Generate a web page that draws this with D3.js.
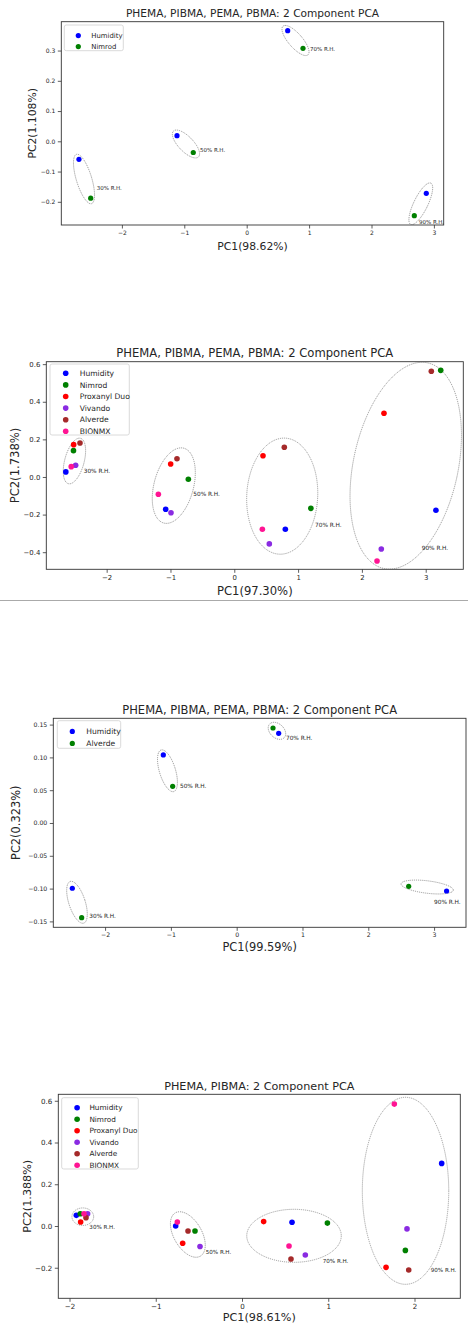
<!DOCTYPE html>
<html>
<head>
<meta charset="utf-8">
<script src="https://cdn.jsdelivr.net/npm/d3@7"></script>
<style>
  body { margin: 0; background: #fff; }
  text { font-family: "DejaVu Sans", sans-serif; fill: #262626; }
</style>
</head>
<body>
<div id="chart"></div>
<script>
// séries et couleurs
const seriesColors = {
  "Humidity": "#0000ff", "Nimrod": "#008000", "Proxanyl Duo": "#ff0000",
  "Vivando": "#8a2be2", "Alverde": "#a52a2a", "BIONMX": "#ff1493"
};
const rhLabels = ["30% R.H.", "50% R.H.", "70% R.H.", "90% R.H."];

// Graphique 1 : Humidity / Nimrod
const p1Series = ["Humidity", "Nimrod"];
const p1PC1 = [[-2.688, -1.117, 0.657, 2.878], [-2.50, -0.856, 0.902, 2.686]];
const p1PC2 = [[-0.0595, 0.0185, 0.3656, -0.172], [-0.188, -0.037, 0.3074, -0.246]];
const p1LabelAt = [[-2.404, -0.153], [-0.748, -0.028], [1.014, 0.306], [2.76, -0.268]];
// ellipses : cx, cy, demi-axe x, demi-axe y, rotation
const p1Ellipses = [[-2.607, -0.1246, 0.123, 0.0853, -17], [-0.973, -0.0089, 0.120, 0.0595, -44],
                    [0.782, 0.3332, 0.112, 0.0628, -41], [2.79, -0.2066, 0.112, 0.076, 26]];
const p1XTicks = [-2, -1, 0, 1, 2, 3];
const p1YTicks = [-0.2, -0.1, 0.0, 0.1, 0.2, 0.3];

// Graphique 2 : six produits
const p2Series = ["Humidity", "Nimrod", "Proxanyl Duo", "Vivando", "Alverde", "BIONMX"];
const p2PC1 = [[-2.64, -1.075, 0.80, 3.16], [-2.52, -0.72, 1.20, 3.235], [-2.517, -0.997, 0.45, 2.346],
               [-2.486, -0.992, 0.549, 2.304], [-2.418, -0.898, 0.784, 3.088], [-2.555, -1.19, 0.44, 2.237]];
const p2PC2 = [[0.027, -0.172, -0.278, -0.177], [0.14, -0.012, -0.167, 0.567], [0.172, 0.069, 0.113, 0.339],
               [0.062, -0.19, -0.356, -0.383], [0.181, 0.097, 0.158, 0.562], [0.055, -0.092, -0.278, -0.447]];
const p2LabelAt = [[-2.36, 0.03], [-0.643, -0.092], [1.265, -0.255], [2.937, -0.378]];
const p2Ellipses = [[-2.505, 0.085, 0.152, 0.125, 15], [-0.948, -0.046, 0.309, 0.206, 15],
                    [0.751, -0.102, 0.556, 0.309, 3], [2.687, 0.060, 0.821, 0.559, 12]];
const p2XTicks = [-2, -1, 0, 1, 2, 3];
const p2YTicks = [-0.4, -0.2, 0.0, 0.2, 0.4, 0.6];

// Graphique 3 : Humidity / Alverde (Alverde en vert ici)
const p3Series = ["Humidity", "Alverde"];
const p3Colors = ["#0000ff", "#008000"];
const p3PC1 = [[-2.498, -1.115, 0.638, 3.19], [-2.356, -0.973, 0.552, 2.614]];
const p3PC2 = [[-0.0995, 0.1037, 0.1367, -0.1037], [-0.1443, 0.0559, 0.1448, -0.0965]];
const p3LabelAt = [[-2.24, -0.142], [-0.862, 0.056], [0.749, 0.1296], [3.0, -0.121]];
const p3Ellipses = [[-2.427, -0.1209, 0.124, 0.0334, -18], [-1.052, 0.0796, 0.122, 0.0331, -17],
                    [0.612, 0.1405, 0.1064, 0.01524, -47], [2.895, -0.0976, 0.400, 0.00945, 7]];
const p3XTicks = [-2, -1, 0, 1, 2, 3];
const p3YTicks = [-0.15, -0.10, -0.05, 0.00, 0.05, 0.10, 0.15];

// Graphique 4 : PHEMA, PIBMA
const p4Series = ["Humidity", "Nimrod", "Proxanyl Duo", "Vivando", "Alverde", "BIONMX"];
const p4PC1 = [[-1.921, -0.769, 0.58, 2.315], [-1.875, -0.545, 0.99, 1.894], [-1.871, -0.688, 0.251, 1.67],
               [-1.79, -0.487, 0.734, 1.913], [-1.809, -0.626, 0.568, 1.933], [-1.832, -0.75, 0.545, 1.766]];
const p4PC2 = [[0.051, 0.0, 0.018, 0.30], [0.059, -0.024, 0.014, -0.117], [0.019, -0.083, 0.021, -0.198],
               [0.059, -0.098, -0.139, -0.014], [0.040, -0.024, -0.158, -0.211], [0.059, 0.019, -0.096, 0.584]];
const p4LabelAt = [[-1.77, -0.006], [-0.421, -0.123], [0.936, -0.168], [2.188, -0.211]];
const p4Ellipses = [[-1.846, 0.0446, 0.126, 0.042, 0], [-0.628, -0.0407, 0.1623, 0.1198, -30],
                    [0.603, -0.047, 0.548, 0.127, 0], [1.896, 0.1686, 0.501, 0.448, 0]];
const p4XTicks = [-2, -1, 0, 1, 2];
const p4YTicks = [-0.2, 0.0, 0.2, 0.4, 0.6];

const W = 468, H = 1324;
const svg = d3.select("#chart").append("svg").attr("width", W).attr("height", H);

// trait de séparation sous le graphique 2
svg.append("line").attr("x1", 0).attr("x2", W).attr("y1", 600.5).attr("y2", 600.5)
  .attr("stroke", "#aaa").attr("stroke-width", 1);

function drawPanel(cfg) {
  const { id, box, xDomain, yDomain, series, pc1, pc2, labelAt, ellipses, xTicks, yTicks, yFmt } = cfg;
  const colorOf = (s, i) => cfg.colors ? cfg.colors[i] : seriesColors[s];
  const [left, top, right, bottom] = box;
  const x = d3.scaleLinear().domain(xDomain).range([left, right]);
  const y = d3.scaleLinear().domain(yDomain).range([bottom, top]);
  const g = svg.append("g");

  g.append("clipPath").attr("id", "clip" + id).append("rect")
    .attr("x", left).attr("y", top).attr("width", right - left).attr("height", bottom - top);

  // axes
  const xAxis = d3.axisBottom(x).tickValues(xTicks).tickSize(3.5).tickPadding(2).tickFormat(d3.format("d"));
  const yAxis = d3.axisLeft(y).tickValues(yTicks).tickSize(3.5).tickPadding(2.5).tickFormat(d3.format(yFmt));
  const gx = g.append("g").attr("transform", `translate(0,${bottom})`).call(xAxis);
  const gy = g.append("g").attr("transform", `translate(${left},0)`).call(yAxis);
  [gx, gy].forEach(a => {
    a.select(".domain").remove();
    a.selectAll(".tick line").attr("stroke", "#333").attr("stroke-width", 0.8);
    a.selectAll(".tick text").attr("font-family", "DejaVu Sans").attr("font-size", cfg.tickFont).attr("fill", "#333");
  });

  // ellipses pointillées
  g.append("g").attr("clip-path", `url(#clip${id})`).selectAll("ellipse")
    .data(ellipses).join("ellipse")
    .attr("cx", d => x(d[0])).attr("cy", d => y(d[1]))
    .attr("rx", d => x(d[0] + d[2]) - x(d[0]))
    .attr("ry", d => y(d[1]) - y(d[1] + d[3]))
    .attr("transform", d => `rotate(${d[4]},${x(d[0])},${y(d[1])})`)
    .attr("fill", "none").attr("stroke", "#777").attr("stroke-width", 0.7)
    .attr("stroke-dasharray", "1.1,0.9");

  // étiquettes R.H.
  g.selectAll("text.rh").data(labelAt).join("text").attr("class", "rh")
    .attr("x", d => x(d[0])).attr("y", d => y(d[1]))
    .attr("dy", "0.35em").attr("font-size", cfg.rhFont)
    .text((d, i) => rhLabels[i]);

  // points
  series.forEach((s, si) => {
    g.append("g").selectAll("circle").data(pc1[si]).join("circle")
      .attr("cx", d => x(d)).attr("cy", (d, i) => y(pc2[si][i]))
      .attr("r", cfg.r).attr("fill", colorOf(s, si));
  });

  // cadre
  g.append("rect").attr("x", left).attr("y", top).attr("width", right - left).attr("height", bottom - top)
    .attr("fill", "none").attr("stroke", "#333").attr("stroke-width", 0.9);

  // légende
  const lg = cfg.legend;
  const leg = g.append("g").attr("transform", `translate(${left + lg.dx},${top + lg.dy})`);
  leg.append("rect").attr("width", lg.w).attr("height", lg.h).attr("rx", 2)
    .attr("fill", "#fff").attr("stroke", "#d0d0d0").attr("stroke-width", 0.8);
  series.forEach((s, i) => {
    leg.append("circle").attr("cx", lg.mx).attr("cy", lg.y0 + i * lg.step).attr("r", cfg.r).attr("fill", colorOf(s, i));
    leg.append("text").attr("x", lg.tx).attr("y", lg.y0 + i * lg.step).attr("dy", "0.35em")
      .attr("font-size", lg.font).text(s);
  });

  // titres
  const cx = (left + right) / 2;
  g.append("text").attr("x", cx).attr("y", cfg.titleY).attr("text-anchor", "middle")
    .attr("font-size", cfg.titleFont).text(cfg.title);
  g.append("text").attr("x", cx).attr("y", cfg.xLabelY).attr("text-anchor", "middle")
    .attr("font-size", cfg.labelFont).text(cfg.xLabel);
  g.append("text").attr("transform", `translate(${cfg.yLabelX},${(top + bottom) / 2}) rotate(-90)`)
    .attr("text-anchor", "middle").attr("font-size", cfg.labelFont).text(cfg.yLabel);
}

drawPanel({
  id: 1, box: [61.3, 21.7, 443.7, 225], xDomain: [-2.971, 3.157], yDomain: [-0.2767, 0.3954],
  series: p1Series, pc1: p1PC1, pc2: p1PC2, labelAt: p1LabelAt, ellipses: p1Ellipses,
  xTicks: p1XTicks, yTicks: p1YTicks, yFmt: ".1f", tickFont: 6, rhFont: 5.5, r: 2.6,
  legend: { dx: 3, dy: 3.3, w: 59, h: 25.7, mx: 14, tx: 27, y0: 10.6, step: 11, font: 6.9 },
  title: "PHEMA, PIBMA, PEMA, PBMA: 2 Component PCA", titleY: 17, titleFont: 10.6,
  xLabel: "PC1(98.62%)", xLabelY: 250, yLabel: "PC2(1.108%)", yLabelX: 35.5, labelFont: 10.8
});

drawPanel({
  id: 2, box: [46.3, 361.7, 463.3, 569.3], xDomain: [-2.946, 3.589], yDomain: [-0.491, 0.613],
  series: p2Series, pc1: p2PC1, pc2: p2PC2, labelAt: p2LabelAt, ellipses: p2Ellipses,
  xTicks: p2XTicks, yTicks: p2YTicks, yFmt: ".1f", tickFont: 6.9, rhFont: 5.8, r: 2.8,
  legend: { dx: 3.7, dy: 2.3, w: 79.3, h: 71, mx: 15.7, tx: 29.7, y0: 9.3, step: 11.6, font: 7.6 },
  title: "PHEMA, PIBMA, PEMA, PBMA: 2 Component PCA", titleY: 357, titleFont: 11.6,
  xLabel: "PC1(97.30%)", xLabelY: 595, yLabel: "PC2(1.738%)", yLabelX: 18.5, labelFont: 11.6
});

drawPanel({
  id: 3, box: [53.3, 718.3, 466, 927.3], xDomain: [-2.787, 3.485], yDomain: [-0.159, 0.1596],
  series: p3Series, colors: p3Colors, pc1: p3PC1, pc2: p3PC2, labelAt: p3LabelAt, ellipses: p3Ellipses,
  xTicks: p3XTicks, yTicks: p3YTicks, yFmt: ".2f", tickFont: 6.2, rhFont: 5.8, r: 2.6,
  legend: { dx: 4, dy: 2.4, w: 63.4, h: 27.6, mx: 15, tx: 29, y0: 10.7, step: 12, font: 7.6 },
  title: "PHEMA, PIBMA, PEMA, PBMA: 2 Component PCA", titleY: 714, titleFont: 11.5,
  xLabel: "PC1(99.59%)", xLabelY: 951, yLabel: "PC2(0.323%)", yLabelX: 19.5, labelFont: 11.4
});

drawPanel({
  id: 4, box: [58.3, 1094.3, 460.3, 1298.3], xDomain: [-2.130, 2.531], yDomain: [-0.3464, 0.631],
  series: p4Series, pc1: p4PC1, pc2: p4PC2, labelAt: p4LabelAt, ellipses: p4Ellipses,
  xTicks: p4XTicks, yTicks: p4YTicks, yFmt: ".1f", tickFont: 7.1, rhFont: 5.6, r: 2.8,
  legend: { dx: 3.4, dy: 3.4, w: 76.6, h: 71.3, mx: 15.4, tx: 27.7, y0: 10, step: 11.5, font: 7.3 },
  title: "PHEMA, PIBMA: 2 Component PCA", titleY: 1090, titleFont: 11.2,
  xLabel: "PC1(98.61%)", xLabelY: 1321, yLabel: "PC2(1.388%)", yLabelX: 30.5, labelFont: 11.2
});
</script>
</body>
</html>
